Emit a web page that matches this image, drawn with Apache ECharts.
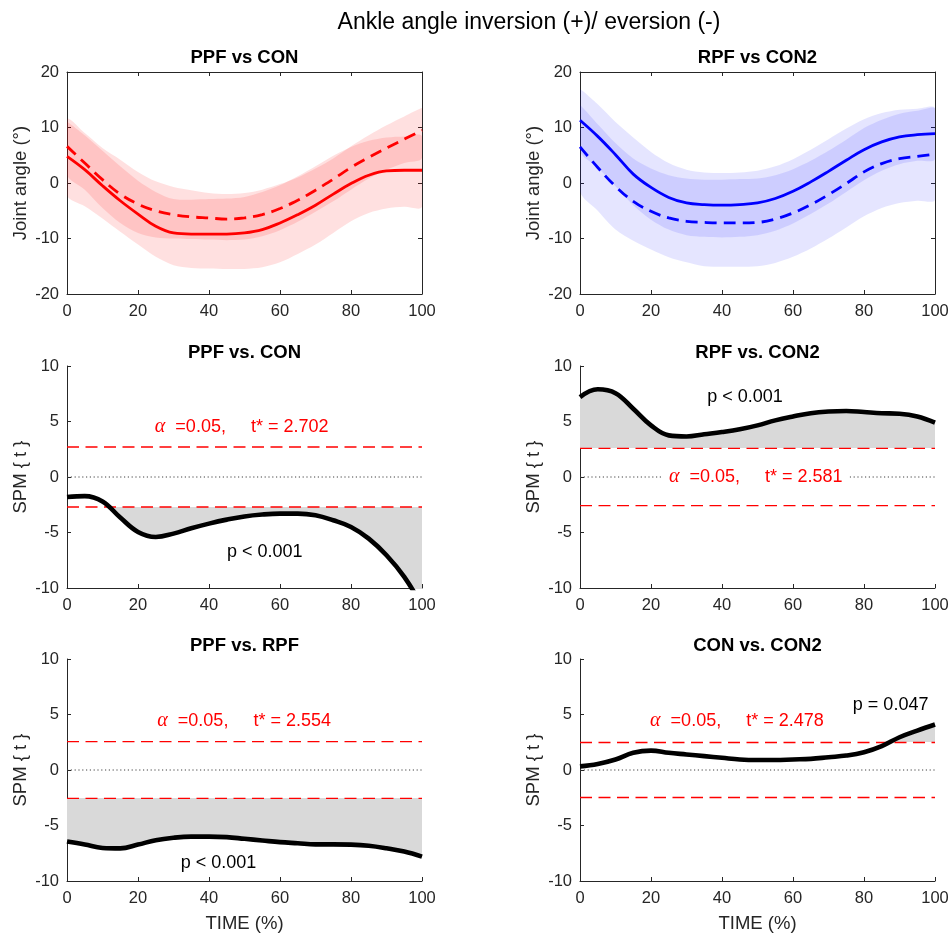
<!DOCTYPE html>
<html>
<head>
<meta charset="utf-8">
<title>Ankle angle inversion (+)/ eversion (-)</title>
<script src="https://cdn.jsdelivr.net/npm/echarts@6/dist/echarts.min.js"></script>
<style>
  html, body { margin: 0; padding: 0; background: #fff; }
  #chart { width: 950px; height: 934px; }
</style>
</head>
<body>
<div id="chart"></div>
<script>
// Normalised time (% of cycle)
const time = [0, 5, 10, 15, 20, 25, 30, 35, 40, 45, 50, 55, 60, 65, 70, 75, 80, 85, 90, 95, 100];

// Joint angle (deg): group mean and ±1 SD envelope
const ppfMean = [4.8, 2.4, -0.5, -3.2, -5.6, -7.8, -9.0, -9.2, -9.2, -9.2, -9.0, -8.4, -7.2, -5.7, -4.0, -2.0, -0.1, 1.4, 2.2, 2.3, 2.3];
const ppfLow  = [-2.2, -4.2, -6.4, -8.8, -11.1, -13.3, -14.8, -15.3, -15.4, -15.5, -15.5, -15.2, -14.3, -12.8, -11.1, -9.0, -6.9, -5.4, -4.6, -4.3, -4.3];
const ppfHigh = [11.0, 8.6, 5.8, 3.0, 0.4, -1.6, -2.9, -3.0, -2.9, -2.8, -2.5, -1.6, -0.4, 1.2, 3.0, 4.9, 6.5, 7.6, 8.2, 8.4, 8.4];

const conMean = [6.6, 3.6, 0.6, -2.0, -3.8, -5.0, -5.7, -6.1, -6.3, -6.5, -6.3, -5.7, -4.6, -3.1, -1.3, 0.7, 2.8, 4.6, 6.3, 7.9, 9.5];
const conLow  = [1.5, -1.2, -4.5, -7.2, -9.0, -9.8, -10.0, -10.1, -10.2, -10.3, -10.2, -9.6, -8.5, -7.0, -5.2, -3.3, -1.2, 0.8, 2.4, 3.6, 4.5];
const conHigh = [11.5, 9.0, 6.3, 4.2, 2.0, 0.3, -0.7, -1.3, -1.8, -2.0, -1.8, -1.2, -0.2, 1.0, 2.6, 4.4, 6.6, 8.6, 10.4, 12.0, 13.5];

const rpfMean = [11.3, 8.4, 5.1, 1.6, -0.8, -2.6, -3.6, -3.9, -4.0, -3.9, -3.6, -2.8, -1.5, 0.2, 2.1, 4.1, 6.0, 7.4, 8.3, 8.7, 8.9];
const rpfLow  = [5.7, 2.8, -0.6, -4.0, -6.6, -8.4, -9.4, -9.7, -9.8, -9.7, -9.4, -8.6, -7.3, -5.6, -3.7, -1.6, 0.5, 2.2, 3.4, 4.0, 4.3];
const rpfHigh = [16.9, 14.2, 11.0, 8.2, 5.6, 3.6, 2.4, 1.9, 1.8, 1.9, 2.2, 3.0, 4.3, 6.0, 7.9, 9.8, 11.5, 12.6, 13.2, 13.4, 13.5];

const con2Mean = [6.5, 2.8, -0.6, -3.3, -5.1, -6.3, -6.9, -7.1, -7.2, -7.2, -7.1, -6.5, -5.4, -3.9, -2.1, -0.1, 2.0, 3.5, 4.4, 4.8, 5.2];
const con2Low  = [-1.5, -5.0, -8.4, -10.4, -12.0, -13.4, -14.3, -15.0, -15.1, -15.1, -15.0, -14.4, -13.3, -11.8, -10.0, -8.0, -6.0, -4.5, -3.6, -3.2, -3.0];
const con2High = [14.0, 10.6, 7.2, 4.4, 2.6, 1.4, 0.8, 0.6, 0.6, 0.7, 0.8, 1.4, 2.5, 4.0, 5.8, 7.8, 9.9, 11.4, 12.5, 13.0, 13.4];

// SPM{t} trajectories of the four comparisons
const tPpfCon   = [-1.8, -1.72, -2.2, -3.65, -4.95, -5.4, -5.1, -4.62, -4.2, -3.84, -3.55, -3.38, -3.3, -3.3, -3.45, -3.9, -4.5, -5.55, -7.05, -9.0, -11.6];
const tRpfCon2  = [7.2, 7.9, 7.55, 6.15, 4.65, 3.75, 3.65, 3.85, 4.05, 4.3, 4.65, 5.1, 5.45, 5.75, 5.9, 5.95, 5.85, 5.75, 5.7, 5.45, 4.9];
const tPpfRpf   = [-6.45, -6.72, -7.02, -7.06, -6.72, -6.32, -6.1, -6.0, -6.0, -6.05, -6.2, -6.35, -6.5, -6.6, -6.7, -6.7, -6.72, -6.82, -7.05, -7.35, -7.8];
const tConCon2  = [0.33, 0.55, 0.95, 1.55, 1.75, 1.55, 1.4, 1.25, 1.1, 0.95, 0.9, 0.9, 0.95, 1.0, 1.15, 1.3, 1.6, 2.15, 2.95, 3.55, 4.1];

// Critical thresholds and cluster p-values
const alphaLevel = 0.05;
const critT  = [2.702, 2.581, 2.554, 2.478];
const pTexts = ['p < 0.001', 'p < 0.001', 'p < 0.001', 'p = 0.047'];

// Titles and tick values
const mainTitle = 'Ankle angle inversion (+)/ eversion (-)';
const panelTitles = ['PPF vs CON', 'RPF vs CON2', 'PPF vs. CON', 'RPF vs. CON2', 'PPF vs. RPF', 'CON vs. CON2'];
const timeTicks  = [0, 20, 40, 60, 80, 100];
const angleTicks = [-20, -10, 0, 10, 20];
const spmTicks   = [-10, -5, 0, 5, 10];

// ---------- layout & style ----------
const FONT = '"Liberation Sans", Arial, Helvetica, sans-serif';
const SERIF = '"Liberation Serif", "Times New Roman", serif';
const AXIS = '#262626';
const SHADE = '#D9D9D9';
const SMOOTH = 0.4;
const CELL_W = 355, CELL_H = 222;
const cells = [
  { left: 67,  top: 72 },  { left: 580, top: 72 },
  { left: 67,  top: 366 }, { left: 580, top: 366 },
  { left: 67,  top: 659 }, { left: 580, top: 659 }
];
// where the annotation texts sit, in data units of each SPM panel
const alphaAnchor = [[49.2, 4.5], [49.5, 0], [49.9, 4.45], [44.2, 4.4]];
const pAnchor     = [[55.7, -6.75], [46.5, 7.2], [42.7, -8.4], [87.5, 5.85]];

const grid = [], xAxis = [], yAxis = [], series = [], visualMap = [], graphic = [];
const ref = [];

function makeX(gi, position, labels) {
  return {
    gridIndex: gi, type: 'value', position,
    min: timeTicks[0], max: timeTicks[timeTicks.length - 1], interval: timeTicks[1] - timeTicks[0],
    axisLine: { show: true, onZero: false, lineStyle: { color: AXIS, width: 1 } },
    axisTick: { show: true, inside: true, length: 4, lineStyle: { color: AXIS } },
    axisLabel: { show: labels, color: AXIS, fontSize: 16.5, fontFamily: FONT, margin: 9 },
    splitLine: { show: false }
  };
}
function makeY(gi, position, labels, ticks) {
  return {
    gridIndex: gi, type: 'value', position,
    min: ticks[0], max: ticks[ticks.length - 1], interval: ticks[1] - ticks[0],
    axisLine: { show: true, onZero: false, lineStyle: { color: AXIS, width: 1 } },
    axisTick: { show: true, inside: true, length: 4, lineStyle: { color: AXIS } },
    axisLabel: { show: labels, color: AXIS, fontSize: 16.5, fontFamily: FONT, margin: 8 },
    splitLine: { show: false }
  };
}

cells.forEach((c, gi) => {
  grid.push({ left: c.left, top: c.top, width: CELL_W, height: CELL_H, containLabel: false, outerBoundsMode: 'none' });
  const boxed = gi < 2;
  const ticks = boxed ? angleTicks : spmTicks;
  const xi = xAxis.length;
  xAxis.push(makeX(gi, 'bottom', true));
  if (boxed) xAxis.push(makeX(gi, 'top', false));
  const yi = yAxis.length;
  yAxis.push(makeY(gi, 'left', true, ticks));
  if (boxed) yAxis.push(makeY(gi, 'right', false, ticks));
  ref.push({ xi, yi });
});

const pairs = values => time.map((t, i) => [t, values[i]]);

// ±SD envelope: closed smooth polygon, upper edge forward, lower edge back
function band(gi, low, high, fill) {
  series.push({
    type: 'custom', coordinateSystem: 'cartesian2d',
    xAxisIndex: ref[gi].xi, yAxisIndex: ref[gi].yi,
    data: time.map((t, i) => [t, low[i], high[i]]),
    encode: { x: 0, y: [1, 2] },
    clip: true, silent: true, z: 1,
    renderItem: (params, api) => {
      if (params.dataIndex !== 0) return null;
      const upper = time.map((t, i) => api.coord([t, high[i]]));
      const lower = time.map((t, i) => api.coord([t, low[i]])).reverse();
      const points = upper.concat(lower);
      const xs = points.map(p => p[0]), ys = points.map(p => p[1]);
      const box = [[Math.min(...xs), Math.min(...ys)], [Math.max(...xs), Math.max(...ys)]];
      return {
        type: 'polygon',
        shape: { points, smooth: 0.3, smoothConstraint: box },
        style: { fill, stroke: null }
      };
    }
  });
}
function meanLine(gi, values, color, dashed) {
  series.push({
    type: 'line', xAxisIndex: ref[gi].xi, yAxisIndex: ref[gi].yi,
    data: pairs(values), smooth: SMOOTH, symbol: 'none', silent: true, z: 3,
    lineStyle: { color, width: 2.8, type: dashed ? [12, 7] : 'solid' }
  });
}
function textMark(gi, anchor, text, fill, withBg) {
  series.push({
    type: 'custom', coordinateSystem: 'cartesian2d',
    xAxisIndex: ref[gi].xi, yAxisIndex: ref[gi].yi,
    data: [anchor], clip: false, silent: true, z: 10,
    renderItem: (params, api) => {
      const p = api.coord([api.value(0), api.value(1)]);
      return {
        type: 'text', x: p[0], y: p[1],
        style: {
          text, fill, fontSize: 18, fontFamily: FONT,
          align: 'center', verticalAlign: 'middle',
          backgroundColor: withBg ? '#ffffff' : null,
          padding: withBg ? [1, 7] : 0,
          rich: { a: { fontFamily: SERIF, fontStyle: 'italic', fontSize: 20, fill } }
        }
      };
    }
  });
}

// Top row: joint angles
band(0, ppfLow, ppfHigh, 'rgba(255,0,0,0.12)');
band(0, conLow, conHigh, 'rgba(255,0,0,0.12)');
meanLine(0, ppfMean, '#FF0000', false);
meanLine(0, conMean, '#FF0000', true);

band(1, rpfLow, rpfHigh, 'rgba(0,0,255,0.1)');
band(1, con2Low, con2High, 'rgba(0,0,255,0.1)');
meanLine(1, rpfMean, '#0000FF', false);
meanLine(1, con2Mean, '#0000FF', true);

// SPM panels
[tPpfCon, tRpfCon2, tPpfRpf, tConCon2].forEach((vals, k) => {
  const gi = k + 2;
  const thr = critT[k];
  const xi = ref[gi].xi, yi = ref[gi].yi;
  const pts = pairs(vals);

  // supra-threshold cluster: area to zero, coloured only beyond ±t*
  visualMap.push({
    type: 'piecewise', show: false, seriesIndex: series.length, dimension: 1,
    pieces: [
      { min: -1000, max: -thr, color: SHADE },
      { min: -thr, max: thr, color: 'rgba(255,255,255,0)' },
      { min: thr, max: 1000, color: SHADE }
    ]
  });
  series.push({
    type: 'line', xAxisIndex: xi, yAxisIndex: yi, data: pts, smooth: SMOOTH,
    symbol: 'none', silent: true, lineStyle: { opacity: 0 }, areaStyle: { opacity: 1 }, z: 1
  });

  series.push({
    type: 'line', xAxisIndex: xi, yAxisIndex: yi, data: [[0, 0], [100, 0]],
    symbol: 'none', silent: true, z: 2,
    lineStyle: { color: '#404040', width: 1, type: [1.2, 2.6] }
  });
  [thr, -thr].forEach(v => series.push({
    type: 'line', xAxisIndex: xi, yAxisIndex: yi, data: [[0, v], [100, v]],
    symbol: 'none', silent: true, z: 3,
    lineStyle: { color: '#FF0000', width: 1.3, type: [12, 6.5] }
  }));
  series.push({
    type: 'line', xAxisIndex: xi, yAxisIndex: yi, data: pts, smooth: SMOOTH,
    symbol: 'none', silent: true, z: 4,
    lineStyle: { color: '#000000', width: 4.6 }
  });

  textMark(gi, alphaAnchor[k],
    '{a|\u03b1}  =' + alphaLevel.toFixed(2) + ',     t* = ' + thr.toFixed(3), '#FF0000', true);
  textMark(gi, pAnchor[k], pTexts[k], '#000000', false);
});

// Titles and axis names
graphic.push({
  type: 'text', x: 529, y: 23, silent: true,
  style: { text: mainTitle, fill: '#000', fontSize: 23, fontFamily: FONT, align: 'center', verticalAlign: 'middle' }
});
const titleY = [58, 58, 353, 353, 646, 646];
cells.forEach((c, gi) => {
  const cx = c.left + CELL_W / 2;
  graphic.push({
    type: 'text', x: cx, y: titleY[gi], silent: true,
    style: { text: panelTitles[gi], fill: '#000', fontSize: 18.5, fontWeight: 'bold', fontFamily: FONT, align: 'center', verticalAlign: 'middle' }
  });
  graphic.push({
    type: 'text', x: c.left - 46.5, y: c.top + CELL_H / 2, rotation: Math.PI / 2, silent: true,
    style: { text: gi < 2 ? 'Joint angle (\u00b0)' : 'SPM { t }', fill: AXIS, fontSize: 18.5, fontFamily: FONT, align: 'center', verticalAlign: 'middle' }
  });
  if (gi >= 4) {
    graphic.push({
      type: 'text', x: cx, y: c.top + CELL_H + 43, silent: true,
      style: { text: 'TIME (%)', fill: AXIS, fontSize: 18.5, fontFamily: FONT, align: 'center', verticalAlign: 'middle' }
    });
  }
});

const chart = echarts.init(document.getElementById('chart'), null, { renderer: 'canvas' });
chart.setOption({
  backgroundColor: '#ffffff',
  animation: false,
  grid, xAxis, yAxis, series, visualMap, graphic
});
</script>
</body>
</html>
